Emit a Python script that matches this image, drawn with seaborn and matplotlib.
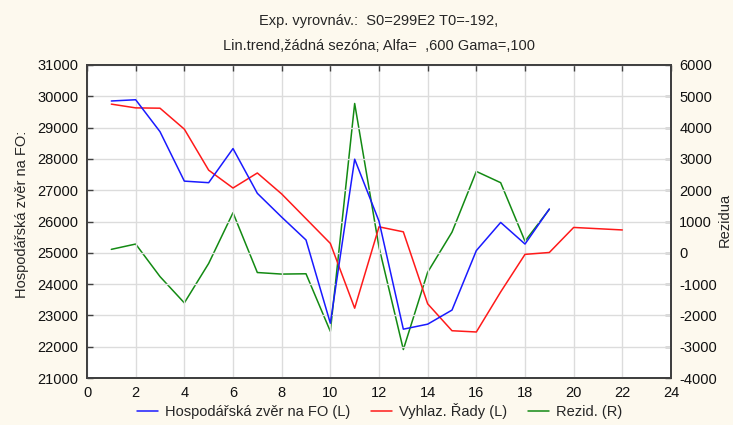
import seaborn as sns
import matplotlib.pyplot as plt
import pandas as pd

# observed series (left axis)
obs_t = list(range(1, 20))
observed = [29850, 29890, 28870, 27290, 27240, 28330, 26900, 26140, 25410, 22750,
            27990, 26010, 22560, 22720, 23170, 25070, 25970, 25280, 26400]

# smoothed series incl. forecast (left axis)
smooth_t = list(range(1, 23))
smoothed = [29750, 29630, 29620, 28950, 27640, 27070, 27550, 26880, 26090, 25300,
            23230, 25830, 25670, 23370, 22510, 22470, 23750, 24950, 25010, 25810,
            25770, 25730]

# residuals (right axis)
resid_t = list(range(1, 20))
residuals = [110, 280, -760, -1600, -340, 1280, -630, -680, -670, -2510,
             4770, 180, -3090, -620, 660, 2600, 2240, 370, 1390]

x_ticks = list(range(0, 25, 2))
left_ticks = list(range(21000, 31001, 1000))
right_ticks = list(range(-4000, 6001, 1000))

bg = "#fdf9ee"
fs = 10.5
sns.set_style("white")
plt.rcParams["font.family"] = ["Liberation Sans", "DejaVu Sans"]
plt.rcParams["font.size"] = fs
plt.rcParams["axes.unicode_minus"] = False

fig = plt.figure(figsize=(7.33, 4.25), dpi=100, facecolor=bg)
ax = fig.add_axes([87 / 733, 1 - 378 / 425, (671 - 87) / 733, (378 - 65) / 425])
ax2 = ax.twinx()

df_obs = pd.DataFrame({"t": obs_t, "v": observed})
df_smo = pd.DataFrame({"t": smooth_t, "v": smoothed})
df_res = pd.DataFrame({"t": resid_t, "v": residuals})

sns.lineplot(data=df_res, x="t", y="v", ax=ax2, color="#138a13", lw=1.1,
             label="Rezid. (R)", legend=False)
sns.lineplot(data=df_smo, x="t", y="v", ax=ax, color="#ff1a1a", lw=1.1,
             label="Vyhlaz. Řady (L)", legend=False)
sns.lineplot(data=df_obs, x="t", y="v", ax=ax, color="#1a1aff", lw=1.1,
             label="Hospodářská zvěr na FO (L)", legend=False)

# draw left axis lines above the twin axis
ax.set_zorder(ax2.get_zorder() + 1)
ax.patch.set_visible(False)
ax2.patch.set_visible(True)
ax2.patch.set_facecolor("white")

ax.set_xlim(0, 24)
ax.set_xticks(x_ticks)
ax.set_ylim(21000, 31000)
ax.set_yticks(left_ticks)
ax2.set_ylim(-4000, 6000)
ax2.set_yticks(right_ticks)

ax.grid(True, color="#dcdcdc", lw=1.0)
ax.set_xlabel("")
ax.set_ylabel("")
ax2.set_ylabel("")

for a in (ax, ax2):
    for s in a.spines.values():
        s.set_color("#404040")
        s.set_linewidth(1.4)
    a.tick_params(direction="in", length=4, width=1, color="#404040",
                  labelsize=fs, labelcolor="#111111", pad=6)
ax.tick_params(top=True)
ax2.tick_params(right=True)

fig.text(0.517, 1 - 21 / 425, "Exp. vyrovnáv.:  S0=299E2 T0=-192,",
         ha="center", va="center", fontsize=fs)
fig.text(0.517, 1 - 46 / 425, "Lin.trend,žádná sezóna; Alfa=  ,600 Gama=,100",
         ha="center", va="center", fontsize=fs)

fig.text(22 / 733, 1 - 214 / 425, "Hospodářská zvěr na FO:", rotation=90,
         ha="center", va="center", fontsize=fs)
fig.text(725 / 733, 1 - 220 / 425, "Rezidua", rotation=90,
         ha="center", va="center", fontsize=fs)

h1, l1 = ax.get_legend_handles_labels()
h2, l2 = ax2.get_legend_handles_labels()
order = [1, 0]
handles = [h1[i] for i in order] + h2
labels = [l1[i] for i in order] + l2
fig.legend(handles, labels, loc="center", bbox_to_anchor=(0.518, 1 - 411 / 425),
           ncol=3, frameon=False, fontsize=fs, handlelength=1.45,
           columnspacing=1.4, handletextpad=0.5)

fig.savefig("out.png", dpi=100, facecolor=bg)
